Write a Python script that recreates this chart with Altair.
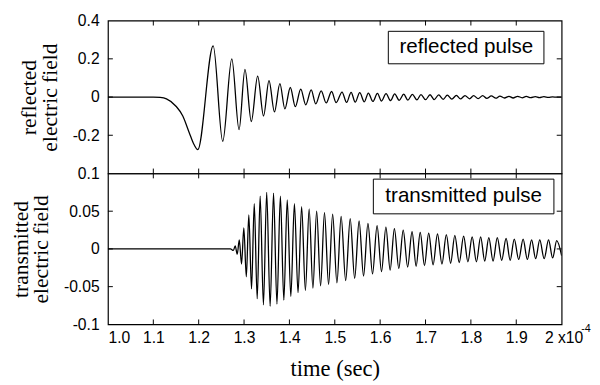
import altair as alt
import pandas as pd

# time axis in units of 1e-4 s
x_ticks = [1.0, 1.1, 1.2, 1.3, 1.4, 1.5, 1.6, 1.7, 1.8, 1.9, 2.0]

# reflected pulse: turning points
refl_t = [1.000, 1.050, 1.100, 1.115, 1.129, 1.150, 1.165, 1.179, 1.190,
          1.198, 1.232, 1.253, 1.273, 1.289, 1.302, 1.316, 1.330, 1.343, 1.355,
          1.367, 1.379, 1.390, 1.402, 1.413, 1.425, 1.436, 1.448, 1.458, 1.470,
          1.481, 1.493, 1.503, 1.516, 1.526, 1.536, 1.545, 1.555, 1.565, 1.574,
          1.584, 1.594, 1.603, 1.613, 1.623, 1.632, 1.642, 1.652, 1.661, 1.671,
          1.681, 1.690, 1.700, 1.710, 1.719, 1.729, 1.739, 1.748, 1.758, 1.768,
          1.777, 1.787, 1.797, 1.806, 1.816, 1.826, 1.835, 1.845, 1.855, 1.864,
          1.874, 1.884, 1.893, 1.903, 1.913, 1.922, 1.932, 1.942, 1.951, 1.961,
          1.971, 1.980, 1.990, 2.000]
refl_v = [0.0, 0.0, 0.0, -0.002, -0.010, -0.048, -0.099, -0.185, -0.250,
          -0.275, 0.268, -0.232, 0.200, -0.171, 0.145, -0.128, 0.109, -0.099, 0.086,
          -0.078, 0.070, -0.062, 0.050, -0.050, 0.042, -0.041, 0.037, -0.036, 0.032,
          -0.031, 0.029, -0.029, 0.026, -0.028, 0.025, -0.027, 0.023, -0.025, 0.021,
          -0.023, 0.019, -0.021, 0.018, -0.019, 0.016, -0.017, 0.015, -0.016, 0.014,
          -0.015, 0.013, -0.014, 0.012, -0.013, 0.011, -0.012, 0.010, -0.011, 0.009,
          -0.010, 0.008, -0.009, 0.007, -0.008, 0.007, -0.007, 0.006, -0.006, 0.005,
          -0.005, 0.004, -0.005, 0.004, -0.004, 0.003, -0.003, 0.002, -0.003, 0.002,
          -0.002, 0.001, -0.001, 0.000]

# transmitted pulse: turning points
trans_t = [1.000, 1.100, 1.200, 1.270, 1.2765, 1.2805, 1.2850, 1.2895,
           1.2945, 1.2995, 1.3050, 1.3105, 1.3165, 1.3225, 1.3290, 1.3355, 1.3427, 1.3499,
           1.3575, 1.3650, 1.3725, 1.3801, 1.3877, 1.3952, 1.4031, 1.4110, 1.4190, 1.4269,
           1.4352, 1.4435, 1.4518, 1.4600, 1.4687, 1.4773, 1.4863, 1.4953, 1.5047, 1.5140,
           1.5240, 1.5340, 1.5438, 1.5536, 1.5634, 1.5731, 1.5832, 1.5932, 1.6030, 1.6127,
           1.6220, 1.6314, 1.6411, 1.6508, 1.6606, 1.6703, 1.6793, 1.6883, 1.6977, 1.7070,
           1.7167, 1.7264, 1.7362, 1.7459, 1.7553, 1.7646, 1.7743, 1.7840, 1.7934, 1.8028,
           1.8122, 1.8215, 1.8305, 1.8395, 1.8489, 1.8582, 1.8679, 1.8776, 1.8866, 1.8956,
           1.9054, 1.9151, 1.9245, 1.9338, 1.9428, 1.9518, 1.9615, 1.9712, 1.9802, 1.9892,
           2.0000]
trans_v = [0.0, 0.0, 0.0, 0.0, -0.002, 0.004, -0.007, 0.012,
           -0.020, 0.028, -0.037, 0.045, -0.053, 0.060, -0.066, 0.070, -0.074, 0.075,
           -0.076, 0.074, -0.073, 0.070, -0.068, 0.065, -0.063, 0.060, -0.058, 0.056,
           -0.055, 0.053, -0.052, 0.050, -0.049, 0.048, -0.047, 0.046, -0.045, 0.043,
           -0.042, 0.040, -0.039, 0.037, -0.036, 0.034, -0.033, 0.031, -0.030, 0.029,
           -0.028, 0.027, -0.026, 0.025, -0.024, 0.023, -0.023, 0.022, -0.022, 0.021,
           -0.021, 0.020, -0.020, 0.019, -0.019, 0.018, -0.018, 0.017, -0.017, 0.016,
           -0.017, 0.016, -0.016, 0.015, -0.016, 0.015, -0.015, 0.014, -0.015, 0.013,
           -0.014, 0.013, -0.014, 0.012, -0.013, 0.012, -0.013, 0.012, -0.012, 0.011,
           -0.009]

refl_domain = [-0.4, 0.4]
refl_label_values = [-0.2, 0, 0.2, 0.4]
refl_tick_values = [-0.2, 0, 0.2]
trans_domain = [-0.1, 0.1]
trans_label_values = [-0.1, -0.05, 0, 0.05, 0.1]
trans_tick_values = [-0.05, 0, 0.05]

refl_title = ["reflected", "electric field"]
trans_title = ["transmitted", "electric field"]
x_title = "time (sec)"
last_label = "2 x10"
exponent = "-4"

# legend boxes (data coordinates)
refl_box = {"x": [1.618], "x2": [1.961], "y": [0.344], "y2": [0.174],
            "tx": [1.790], "ty": [0.259], "label": ["reflected pulse"]}
trans_box = {"x": [1.585], "x2": [1.983], "y": [0.0925], "y2": [0.0465],
             "tx": [1.784], "ty": [0.0695], "label": ["transmitted pulse"]}

W = 463
SANS = "Liberation Sans"
SERIF = "Liberation Serif"
TL = 5  # inward tick length
LABEL_PAD = 6


def panel(t, v, ydom, ylabels, yticks, ytitle, box, height, bottom):
    xsc = alt.Scale(domain=[1.0, 2.0], nice=False, zero=False)
    ysc = alt.Scale(domain=ydom, nice=False, zero=False)
    if bottom:
        xax = alt.Axis(values=x_ticks, title=x_title, labelOverlap=False,
                       labelExpr="datum.value == 2 ? '' : format(datum.value, '.1f')",
                       labelPadding=LABEL_PAD, titlePadding=12, titleFontSize=23)
    else:
        xax = None
    yax = alt.Axis(values=ylabels, title=ytitle, labelExpr="'' + datum.value",
                   labelOverlap=False, labelPadding=9, titlePadding=11,
                   titleLineHeight=21)

    def X(f):
        return alt.X(f, scale=xsc, axis=xax)

    def Y(f):
        return alt.Y(f, scale=ysc, axis=yax)

    df = pd.DataFrame({"t": t, "v": v})
    line = alt.Chart(df).mark_line(color="black", strokeWidth=1.3,
                                   interpolate="monotone", clip=True).encode(
        x=X("t:Q"), y=Y("v:Q"))

    xt = pd.DataFrame({"t": x_ticks[1:-1]})
    xtop = alt.Chart(xt).mark_rule(color="black", strokeWidth=1).encode(
        x=X("t:Q"), y=alt.value(0), y2=alt.value(TL))
    xbot = alt.Chart(xt).mark_rule(color="black", strokeWidth=1).encode(
        x=X("t:Q"), y=alt.value(height), y2=alt.value(height - TL))

    yt = pd.DataFrame({"v": yticks})
    yl = alt.Chart(yt).mark_rule(color="black", strokeWidth=1).encode(
        y=Y("v:Q"), x=alt.value(0), x2=alt.value(TL))
    yr = alt.Chart(yt).mark_rule(color="black", strokeWidth=1).encode(
        y=Y("v:Q"), x=alt.value(W), x2=alt.value(W - TL))

    bdf = pd.DataFrame(box)
    rect = alt.Chart(bdf).mark_rect(fill="white", stroke="black", strokeWidth=1).encode(
        x=X("x:Q"), x2="x2", y=Y("y:Q"), y2="y2")
    txt = alt.Chart(bdf).mark_text(font=SANS, fontSize=21, color="black",
                                   align="center", baseline="middle").encode(
        x=X("tx:Q"), y=Y("ty:Q"), text="label:N")

    layers = [line, xtop, xbot, yl, yr, rect, txt]
    if bottom:
        edf = pd.DataFrame({"t": [2.0], "v": [ydom[0]], "s": [last_label], "e": [exponent]})
        lab = alt.Chart(edf).mark_text(font=SANS, fontSize=16, color="black",
                                       align="left", baseline="top",
                                       dx=-17, dy=LABEL_PAD).encode(
            x=X("t:Q"), y=Y("v:Q"), text="s:N")
        expo = alt.Chart(edf).mark_text(font=SANS, fontSize=11, color="black",
                                        align="left", baseline="middle",
                                        dx=20, dy=5).encode(
            x=X("t:Q"), y=Y("v:Q"), text="e:N")
        layers += [lab, expo]
    return alt.layer(*layers).properties(width=W, height=height)


top = panel(refl_t, refl_v, refl_domain, refl_label_values, refl_tick_values,
            refl_title, refl_box, 156, False)
bot = panel(trans_t, trans_v, trans_domain, trans_label_values, trans_tick_values,
            trans_title, trans_box, 154, True)

chart = alt.vconcat(top, bot, spacing=0, bounds="flush").properties(
    padding={"left": 0, "top": 0, "right": 0, "bottom": 0},
    background="white",
).configure_view(
    stroke="black", strokeWidth=1.2
).configure_axis(
    labelFont=SANS, labelFontSize=16, labelColor="black",
    titleFont=SERIF, titleFontSize=22, titleFontWeight="normal", titleColor="black",
    ticks=False, domain=False, grid=False,
)

chart.save("out.html", embed_options={"renderer": "svg", "actions": False})
